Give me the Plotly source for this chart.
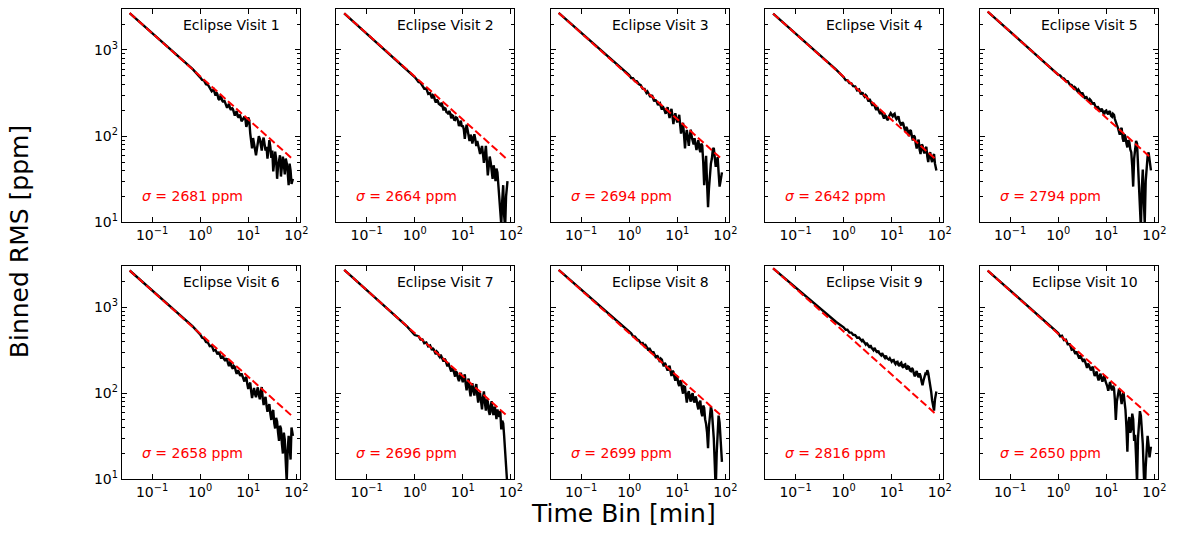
import math
import plotly.graph_objects as go
from plotly.subplots import make_subplots

# ---------------- data ----------------
time_bin = [0.0342, 0.1, 0.3, 0.5, 0.7,
            1.0, 1.10, 1.20, 1.32, 1.45, 1.58, 1.74, 1.91,
            2.09, 2.19, 2.29, 2.40, 2.51, 2.63, 2.75, 2.88, 3.02, 3.16,
            3.31, 3.47, 3.63, 3.80, 3.98, 4.17, 4.37, 4.57, 4.79, 5.01,
            5.25, 5.50, 5.75, 6.03, 6.31, 6.61, 6.92, 7.24, 7.59, 7.94,
            8.32, 8.71, 9.12, 9.55, 10.0, 10.5, 11.0, 11.5, 12.0, 12.6,
            13.2, 13.8, 14.5, 15.1, 15.8, 16.6, 17.4, 18.2, 19.1, 20.0,
            20.9, 21.9, 22.9, 24.0, 25.1, 26.3, 27.5, 28.8, 30.2, 31.6,
            33.1, 34.7, 36.3, 38.0, 39.8, 41.7, 43.7, 45.7, 47.9, 50.1,
            52.5, 55.0, 57.5, 60.3, 63.1, 66.1, 69.2, 72.4, 75.9, 79.4, 85.0]

visit_labels = ["Eclipse Visit 1", "Eclipse Visit 2", "Eclipse Visit 3", "Eclipse Visit 4",
                "Eclipse Visit 5", "Eclipse Visit 6", "Eclipse Visit 7", "Eclipse Visit 8",
                "Eclipse Visit 9", "Eclipse Visit 10"]
sigma_ppm = [2681, 2664, 2694, 2642, 2794, 2658, 2696, 2699, 2816, 2650]

rms_v1 = [2681, 1565, 900, 695, 598, 481, 449, 444, 401, 395, 363, 331, 348,
          295, 322, 305, 270, 263, 290, 284, 258, 248, 262, 245, 228, 213, 225, 238, 212,
          201, 214, 206, 190, 173, 188, 194, 170, 164, 178, 168, 149, 153, 160, 169, 158,
          128, 140, 165, 152, 108, 92, 72, 95, 82, 75, 60, 70, 81, 100, 93, 75, 68, 88,
          96, 80, 68, 75, 55, 70, 90, 75, 56, 68, 39, 50, 66, 55, 32, 45, 52, 60, 34, 42,
          58, 47, 36, 55, 49, 38, 27, 48, 40, 28, 32]
rms_v2 = [2664, 1555, 905, 700, 583, 486, 454, 426, 418, 379, 355, 357, 309,
          316, 288, 275, 298, 291, 262, 245, 266, 257, 238, 235, 228, 245, 220, 199, 212,
          209, 190, 188, 180, 197, 182, 161, 175, 172, 155, 154, 165, 162, 150, 131, 140,
          151, 128, 133, 120, 93, 115, 136, 118, 95, 88, 104, 98, 82, 90, 105, 92, 77, 88,
          81, 70, 62, 68, 77, 62, 49, 60, 77, 52, 35, 45, 58, 50, 38, 32, 46, 40, 30, 42,
          38, 28, 20, 14, 9.4, 18, 27, 12, 8.6, 20, 30]
rms_v3 = [2694, 1590, 925, 712, 603, 511, 473, 471, 436, 432, 403, 391, 355,
          353, 335, 318, 330, 319, 300, 284, 296, 294, 268, 254, 262, 260, 245, 229, 238,
          242, 218, 204, 222, 212, 195, 182, 200, 217, 185, 162, 190, 207, 172, 138, 168,
          184, 160, 144, 158, 177, 135, 107, 125, 143, 105, 72, 100, 118, 95, 77, 100, 119, 98,
          85, 80, 95, 82, 69, 80, 90, 72, 65, 82, 78, 50, 27, 40, 59, 28, 15, 25, 39, 48,
          55, 70, 73, 58, 44, 50, 57, 38, 26, 30, 38]
rms_v4 = [2642, 1555, 905, 697, 590, 484, 447, 446, 412, 410, 381, 378, 340,
          348, 325, 307, 318, 315, 296, 286, 300, 292, 268, 253, 270, 257, 240, 225, 242,
          232, 212, 201, 218, 207, 190, 180, 195, 185, 170, 160, 175, 171, 158, 153, 168,
          178, 185, 178, 170, 178, 182, 166, 158, 163, 170, 148, 140, 133, 145, 140, 125, 114, 128,
          123, 108, 100, 118, 115, 100, 89, 102, 98, 82, 72, 85, 91, 70, 62, 80, 78, 68, 63, 72,
          75, 58, 50, 62, 65, 55, 50, 58, 62, 48, 40]
rms_v5 = [2794, 1640, 955, 738, 628, 517, 507, 476, 467, 437, 436, 399, 393,
          361, 372, 365, 345, 333, 348, 337, 318, 306, 320, 301, 285, 271, 290, 280, 262,
          252, 268, 260, 242, 234, 246, 230, 218, 206, 222, 214, 200, 193, 208, 201, 186,
          180, 196, 199, 185, 179, 196, 191, 172, 168, 182, 177, 158, 143, 135, 126, 115, 104, 118,
          125, 95, 86, 105, 98, 82, 74, 90, 86, 70, 65, 45, 26, 55, 72, 88, 82, 45, 26, 15,
          8.6, 25, 41, 18, 9.8, 30, 50, 58, 65, 52, 40]
rms_v6 = [2658, 1565, 910, 705, 597, 481, 440, 435, 393, 388, 352, 357, 313,
          320, 300, 283, 296, 295, 270, 252, 272, 260, 242, 238, 250, 248, 222, 207, 225,
          219, 200, 193, 208, 203, 182, 168, 185, 180, 165, 159, 170, 160, 148, 137, 150,
          155, 128, 112, 126, 133, 105, 88, 102, 115, 98, 90, 105, 117, 96, 85, 104, 118, 88,
          73, 85, 91, 72, 61, 70, 75, 58, 49, 60, 64, 45, 39, 52, 47, 35, 28, 42, 39, 26,
          20, 35, 29, 16, 9.3, 22, 32, 24, 17, 40, 32]
rms_v7 = [2696, 1580, 915, 708, 592, 474, 466, 460, 421, 422, 381, 389, 350,
          359, 335, 317, 330, 321, 298, 283, 305, 296, 272, 263, 280, 265, 245, 233, 252,
          243, 222, 205, 226, 213, 192, 179, 198, 190, 168, 156, 180, 172, 150, 138, 158,
          173, 148, 134, 150, 166, 128, 108, 130, 148, 112, 92, 118, 131, 105, 94, 115, 128, 95,
          78, 100, 99, 80, 65, 90, 105, 78, 63, 85, 80, 62, 56, 72, 81, 60, 56, 70, 63, 50,
          65, 58, 53, 62, 38, 48, 45, 32, 20, 14, 8]
rms_v8 = [2699, 1595, 930, 716, 606, 509, 495, 460, 456, 423, 413, 382, 383,
          352, 362, 347, 330, 315, 335, 319, 300, 290, 305, 286, 270, 257, 275, 265, 245,
          231, 252, 246, 222, 205, 225, 216, 196, 183, 198, 209, 180, 159, 182, 177, 155,
          140, 160, 155, 130, 121, 140, 137, 112, 99, 120, 118, 95, 78, 98, 106, 88, 80, 96,
          100, 82, 78, 92, 85, 72, 65, 78, 82, 60, 54, 72, 68, 50, 44, 35, 23, 42, 54, 70,
          62, 45, 30, 15, 7.5, 20, 33, 55, 46, 28, 16]
rms_v9 = [2816, 1685, 996, 780, 672, 583, 546, 547, 507, 506, 477, 474, 441,
          443, 425, 413, 402, 414, 392, 377, 368, 386, 362, 352, 340, 361, 338, 329, 316,
          336, 312, 307, 296, 313, 292, 287, 276, 292, 275, 267, 258, 274, 256, 249, 246,
          255, 240, 232, 242, 244, 226, 218, 230, 232, 214, 207, 222, 227, 205, 198, 214, 217, 196,
          189, 205, 202, 184, 181, 196, 190, 170, 157, 172, 181, 162, 154, 170, 158, 138, 124, 140,
          150, 168, 164, 185, 172, 150, 131, 105, 83, 72, 63, 85, 105]
rms_v10 = [2650, 1555, 905, 700, 592, 500, 458, 465, 413, 419, 371, 371, 320,
           325, 300, 285, 305, 290, 268, 252, 275, 262, 240, 232, 250, 236, 215, 197, 222,
           211, 190, 184, 196, 203, 175, 159, 168, 179, 155, 141, 158, 169, 148, 136, 150,
           162, 140, 132, 120, 107, 128, 135, 115, 108, 122, 114, 85, 49, 80, 94, 108, 106, 88,
           75, 95, 102, 80, 64, 40, 21, 45, 53, 35, 38, 58, 50, 28, 33, 18, 8.9, 30, 49, 62,
           55, 38, 26, 12, 6.2, 14, 21, 32, 25, 18, 24]

# expected white-noise line (red dashed): endpoints per visit
expected_x = [0.0342, 85.0]
expected_end = [53.8, 53.4, 54.0, 53.0, 56.0, 53.3, 54.1, 54.1, 56.5, 53.2]

x_tick_vals = [0.1, 1, 10, 100]
x_tick_text = ["10<sup>\u22121</sup>", "10<sup>0</sup>", "10<sup>1</sup>", "10<sup>2</sup>"]
y_tick_vals = [10, 100, 1000]
y_tick_text = ["10<sup>1</sup>", "10<sup>2</sup>", "10<sup>3</sup>"]

rms_all = [rms_v1, rms_v2, rms_v3, rms_v4, rms_v5, rms_v6, rms_v7, rms_v8, rms_v9, rms_v10]

# ---------------- layout geometry (pixels) ----------------
W, H = 1181, 537
col_left = [122.7, 338.9, 555.0, 771.1, 987.3]
plot_w = 179.3
row_top = [9.0, 270.0]
plot_h = 216.7

FONT = "DejaVu Sans"
fig = make_subplots(rows=2, cols=5)

minor_y = [m * 10 ** e for e in (1, 2, 3) for m in range(2, 10) if m * 10 ** e <= 3000]

annotations = []
for i in range(10):
    r, c = divmod(i, 5)
    n = i + 1
    fig.add_trace(go.Scatter(x=time_bin, y=rms_all[i], mode="lines",
                             line=dict(color="black", width=2.4), showlegend=False,
                             hoverinfo="skip"), row=r + 1, col=c + 1)
    fig.add_trace(go.Scatter(x=expected_x, y=[sigma_ppm[i], expected_end[i]], mode="lines",
                             line=dict(color="red", width=2, dash="7.7px,3.3px"),
                             showlegend=False, hoverinfo="skip"), row=r + 1, col=c + 1)

    left = col_left[c]
    top = row_top[r]
    x0, x1 = left / W, (left + plot_w) / W
    y1, y0 = 1 - top / H, 1 - (top + plot_h) / H
    common = dict(type="log", showline=True, linecolor="black", linewidth=1,
                  mirror="allticks", ticks="inside", ticklen=5, tickwidth=1,
                  tickcolor="black", showgrid=False, zeroline=False,
                  tickfont=dict(family=FONT, size=14, color="black"))
    fig.layout[f"xaxis{n}"].update(domain=[x0, x1], range=[-1.63, 2.07],
                                   tickmode="array", tickvals=x_tick_vals,
                                   ticktext=x_tick_text, **common)
    fig.layout[f"yaxis{n}"].update(domain=[y0, y1], range=[1, math.log10(3000)],
                                   tickmode="array", tickvals=y_tick_vals,
                                   ticktext=y_tick_text, showticklabels=(c == 0),
                                   minor=dict(ticks="inside", ticklen=3, tickwidth=1,
                                              tickcolor="black", tickmode="array",
                                              tickvals=minor_y, showgrid=False),
                                   **common)
    annotations.append(dict(xref="paper", yref="paper",
                            x=(left + plot_w - 18) / W, y=1 - (top + 16) / H,
                            xanchor="right", yanchor="middle", showarrow=False,
                            text=visit_labels[i],
                            font=dict(family=FONT, size=14, color="black")))
    annotations.append(dict(xref="paper", yref="paper",
                            x=(left + 18) / W, y=1 - (top + plot_h - 26.5) / H,
                            xanchor="left", yanchor="middle", showarrow=False,
                            text=f"<i>\u03c3</i> = {sigma_ppm[i]} ppm",
                            font=dict(family=FONT, size=14, color="red")))

annotations.append(dict(xref="paper", yref="paper", x=628 / W, y=1 - 521 / H,
                        xanchor="center", yanchor="middle", showarrow=False,
                        text="Time Bin [min]", font=dict(family=FONT, size=25, color="black")))
annotations.append(dict(xref="paper", yref="paper", x=19 / W, y=1 - 245 / H,
                        xanchor="center", yanchor="middle", showarrow=False, textangle=-90,
                        text="Binned RMS [ppm]", font=dict(family=FONT, size=25, color="black")))

fig.update_layout(width=W, height=H, margin=dict(l=0, r=0, t=0, b=0),
                  paper_bgcolor="white", plot_bgcolor="white",
                  font=dict(family=FONT, color="black"),
                  annotations=annotations, showlegend=False)

fig.write_html("out.html", config={"displayModeBar": False, "staticPlot": True},
               post_script="document.body.style.margin='0';document.body.style.overflow='hidden';")
